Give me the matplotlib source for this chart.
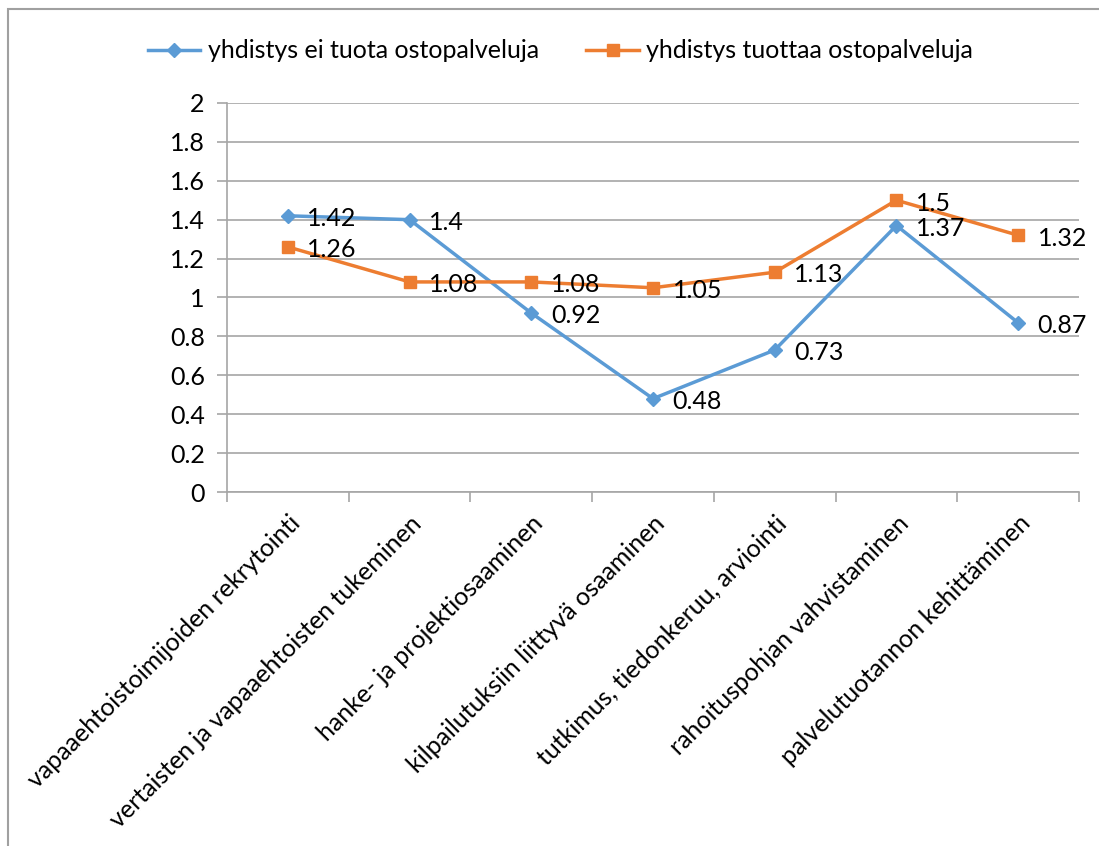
import matplotlib.pyplot as plt
from matplotlib.patches import Rectangle
import numpy as np

categories = ['vapaaehtoistoimijoiden rekrytointi',
              'vertaisten ja vapaaehtoisten tukeminen',
              'hanke- ja projektiosaaminen',
              'kilpailutuksiin liittyvä osaaminen',
              'tutkimus, tiedonkeruu, arviointi',
              'rahoituspohjan vahvistaminen',
              'palvelutuotannon kehittäminen']
ei_tuota = [1.42, 1.4, 0.92, 0.48, 0.73, 1.37, 0.87]
tuottaa = [1.26, 1.08, 1.08, 1.05, 1.13, 1.5, 1.32]
label_ei = 'yhdistys ei tuota ostopalveluja'
label_tuottaa = 'yhdistys tuottaa ostopalveluja'
yticks = [0, 0.2, 0.4, 0.6, 0.8, 1, 1.2, 1.4, 1.6, 1.8, 2]

plt.rcParams['font.family'] = ['Lato', 'DejaVu Sans']

blue = '#5B9BD5'
orange = '#ED7D31'
grid_col = '#A6A6A6'
fs = 18

fig = plt.figure(figsize=(10.99, 8.46), dpi=100)
ax = fig.add_axes([0.2066, 0.4184, 0.7752, 0.4599])

# outer chart frame
fig.patches.append(Rectangle((0.0073, -0.05), 1.2, 0.9894 + 0.05, transform=fig.transFigure,
                             fill=False, edgecolor='#A0A0A0', linewidth=1.5))

x = np.arange(len(categories))
ax.plot(x, ei_tuota, color=blue, linewidth=2.5, marker='D', markersize=7, label=label_ei)
ax.plot(x, tuottaa, color=orange, linewidth=2.5, marker='s', markersize=9, label=label_tuottaa)

for xi, v in zip(x, ei_tuota):
    ax.annotate(f'{v:g}', (xi, v), xytext=(14, -2), textcoords='offset points',
                ha='left', va='center', fontsize=fs)
for xi, v in zip(x, tuottaa):
    ax.annotate(f'{v:g}', (xi, v), xytext=(14, -2), textcoords='offset points',
                ha='left', va='center', fontsize=fs)

ax.set_xlim(-0.5, len(categories) - 0.5)
ax.set_ylim(0, 2)
ax.set_yticks(yticks)
ax.set_yticklabels([f'{t:g}' for t in yticks], fontsize=fs)
ax.yaxis.grid(True, color=grid_col, linewidth=1.2)
ax.set_axisbelow(True)

ax.set_xticks(np.arange(len(categories) + 1) - 0.5)
ax.set_xticklabels([])
ax.set_xticks(x, minor=True)
ax.set_xticklabels(categories, minor=True, rotation=45, ha='right',
                   rotation_mode='anchor', fontsize=fs)
ax.tick_params(axis='x', which='major', length=7, color=grid_col, width=1.2)
ax.tick_params(axis='x', which='minor', length=0, pad=14)
ax.tick_params(axis='y', length=7, color=grid_col, width=1.2, pad=9)

for s in ['top', 'right']:
    ax.spines[s].set_visible(False)
for s in ['left', 'bottom']:
    ax.spines[s].set_color(grid_col)
    ax.spines[s].set_linewidth(1.2)

fig.legend(loc='center', bbox_to_anchor=(0.51, 0.94), ncol=2, frameon=False,
           fontsize=fs, handlelength=2.1, handletextpad=0.3, columnspacing=1.9)

fig.savefig('out.png', dpi=100)
